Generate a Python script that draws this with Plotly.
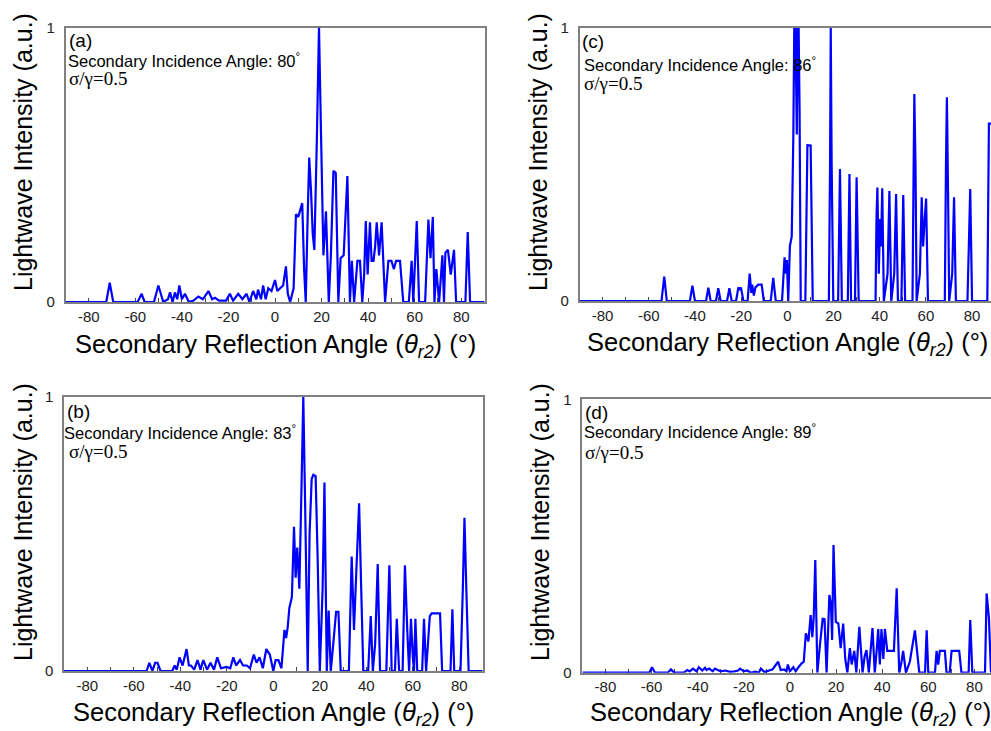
import plotly.graph_objects as go

# ---------------- data ----------------
# Panel (a): secondary incidence angle 80 deg
angle_a = [
    -90, -72.5, -71, -69.5, -59, -57.3, -56, -52, -50.1, -48,
    -46, -45.1, -44, -43, -42, -41.1, -40, -38.7, -37, -35,
    -32.9, -31, -28.6, -27, -25.8, -24, -21, -19.4, -18, -15.8,
    -14, -12.2, -11, -9.4, -8, -7.3, -6, -5.1, -4, -2.9,
    -1.5, 0, 1, 2.2, 3.5, 4.7, 5.5, 6.5, 8, 9,
    10, 11, 11.7, 12.5, 13.2, 14, 14.7, 15.5, 16.2, 16.9,
    18, 18.9, 19.8, 20.8, 21.9, 23.1, 24, 25.1, 26.1, 27.2,
    28.2, 29.5, 31.1, 32.2, 33, 34, 35.4, 36.5, 37.5, 38.3,
    39, 39.8, 40.8, 41.5, 42.3, 43, 43.7, 44.7, 45.8, 47.3,
    48.7, 50, 51.1, 52, 53.7, 55.1, 57.5, 58.7, 59.4, 60.9,
    61.9, 64.5, 65.9, 66.8, 67.8, 68.5, 69.3, 70.5, 71.9, 72.6,
    73.2, 74.3, 75.5, 76.9, 77.8, 81.8, 82.8, 83.8, 90,
]
intensity_a = [
    0, 0, 0.07, 0, 0, 0.03, 0, 0, 0.06, 0,
    0.01, 0.035, 0, 0.035, 0.01, 0.06, 0.01, 0.03, 0, 0.005,
    0.02, 0.01, 0.04, 0.01, 0.015, 0.005, 0.005, 0.03, 0.005, 0.03,
    0.01, 0.03, 0, 0.04, 0.01, 0.045, 0.01, 0.06, 0.01, 0.05,
    0.04, 0.08, 0.04, 0.05, 0.06, 0.13, 0.03, 0, 0.05, 0.32,
    0.31, 0.34, 0.36, 0.12, 0, 0.3, 0.526, 0.4, 0.25, 0.19,
    0.6, 1.0, 0.6, 0.17, 0.33, 0, 0.17, 0.478, 0.47, 0,
    0.16, 0.17, 0.459, 0, 0.15, 0, 0.15, 0.15, 0, 0.1,
    0.295, 0.1, 0.29, 0.15, 0.15, 0.2, 0.29, 0.17, 0.29, 0,
    0.15, 0.15, 0.12, 0.15, 0.15, 0, 0, 0.15, 0, 0.295,
    0, 0, 0.30, 0.16, 0.31, 0, 0.12, 0, 0.17, 0,
    0.18, 0.19, 0.1, 0.19, 0, 0, 0.255, 0, 0,
]

# Panel (b): secondary incidence angle 83 deg
angle_b = [
    -90, -54.5, -53.3, -52, -50.8, -49.8, -48.5, -43.5, -42.4, -41.5,
    -40.3, -39, -37.3, -36.3, -35.4, -34, -32.6, -31.3, -30.1, -28.5,
    -27, -25.5, -24.1, -22.5, -20.1, -18.5, -17.2, -16, -14.3, -13,
    -11.4, -10, -8.4, -7.2, -5.9, -4.5, -3, -1.5, 0, 1,
    2.2, 3.5, 4.8, 5.5, 6.2, 6.9, 8.0, 8.9, 9.6, 10.3,
    11.2, 12.2, 12.9, 13.7, 14.8, 15.6, 16.5, 17.2, 18.2, 19.1,
    20.0, 21.2, 22.0, 23.0, 23.8, 24.7, 25.8, 27.0, 28.0, 29.0,
    32.5, 33.7, 34.7, 35.4, 36.9, 37.8, 38.7, 40.8, 41.9, 42.8,
    43.8, 44.9, 45.9, 48.6, 49.9, 50.9, 52.3, 53.1, 54.1, 55.6,
    56.6, 57.6, 58.4, 59.2, 60.0, 60.5, 61.1, 61.9, 64.0, 64.8,
    65.7, 67.3, 68.1, 70.0, 71.7, 72.6, 76.2, 77.0, 77.8, 80.5,
    81.5, 82.2, 83.0, 84.0, 90,
]
intensity_b = [
    0, 0, 0.03, 0, 0.03, 0.03, 0, 0, 0.02, 0.005,
    0.05, 0.02, 0.08, 0.02, 0.02, 0.005, 0.04, 0.005, 0.04, 0.005,
    0.03, 0.005, 0.05, 0.01, 0.015, 0.01, 0.05, 0.02, 0.04, 0.02,
    0.02, 0.01, 0.06, 0.03, 0.05, 0.01, 0.08, 0.06, 0, 0.04,
    0.04, 0.01, 0.15, 0.12, 0.16, 0.23, 0.27, 0.526, 0.34, 0.45,
    0.3, 0.7, 1.0, 0.6, 0, 0.5, 0.7, 0.715, 0.71, 0.4,
    0, 0.3, 0.687, 0, 0.22, 0, 0.1, 0.216, 0.216, 0,
    0, 0.417, 0.15, 0.3, 0.611, 0.3, 0, 0, 0.2, 0,
    0.1, 0.39, 0, 0, 0.385, 0, 0, 0.19, 0, 0,
    0.385, 0.15, 0, 0.19, 0.05, 0, 0.19, 0, 0, 0.19,
    0, 0.2, 0.21, 0.21, 0.21, 0, 0, 0.225, 0, 0,
    0.3, 0.559, 0.3, 0, 0,
]

# Panel (c): secondary incidence angle 86 deg
angle_c = [
    -90, -54.5, -53.3, -52.2, -42.2, -41.1, -40, -35.2, -34.2, -33.2,
    -30.9, -29.9, -28.9, -26.1, -25.1, -24.1, -22.2, -21.2, -20.6, -20.1,
    -19, -17.2, -16.3, -15.6, -15.2, -14.5, -13.8, -12.6, -11.1, -10.2,
    -7.2, -6.1, -5, -2.3, -1.2, -0.6, -0.2, 0.4, 1.1, 1.9,
    2.6, 3.0, 3.5, 4.1, 4.5, 4.9, 5.3, 5.8, 7.8, 8.7,
    10.1, 11.0, 18.0, 18.5, 18.8, 19.2, 19.9, 22.0, 22.8, 23.6,
    26.2, 26.9, 27.6, 29.3, 30.0, 30.9, 38.2, 38.6, 39.0, 39.6,
    40.2, 40.6, 41.1, 41.8, 43.4, 44.2, 45.0, 46.3, 47.1, 47.9,
    49.4, 50.2, 51.0, 54.2, 54.6, 55.0, 55.5, 56.0, 57.4, 58.2,
    58.8, 59.5, 60.1, 60.9, 68.2, 68.7, 69.1, 69.6, 70.1, 71.4,
    72.2, 73.0, 78.0, 78.6, 79.2, 80.0, 86.6, 87.3, 88.2,
]
intensity_c = [
    0, 0, 0.089, 0, 0, 0.056, 0, 0, 0.049, 0,
    0, 0.047, 0, 0, 0.047, 0, 0, 0.05, 0.04, 0.05,
    0, 0, 0.1, 0.03, 0.06, 0.02, 0.05, 0.06, 0.06, 0,
    0, 0.085, 0, 0, 0.16, 0.1, 0.15, 0, 0.2, 0.236,
    0.6, 1.0, 1.0, 0.61, 1.0, 1.0, 0.7, 0, 0, 0.571,
    0.57, 0, 0, 0.5, 1.0, 0.5, 0, 0, 0.483, 0,
    0, 0.465, 0, 0, 0.453, 0, 0, 0.3, 0.416, 0.1,
    0.3, 0.2, 0.413, 0, 0.1, 0.403, 0, 0.1, 0.392, 0,
    0, 0.388, 0, 0, 0.4, 0.758, 0.5, 0, 0.1, 0.38,
    0.2, 0.3, 0.375, 0, 0, 0.5, 0.746, 0.4, 0, 0.1,
    0.38, 0, 0, 0.2, 0.41, 0, 0, 0.65, 0.65,
]

# Panel (d): secondary incidence angle 89 deg
angle_d = [
    -90, -61, -59.8, -58.5, -53, -51.6, -50.2, -46, -44.5, -43.5,
    -42, -40.5, -39.5, -38, -36.8, -36.2, -35, -33.5, -32.5, -31.8,
    -30, -28, -26, -24, -22.5, -21.6, -20, -18.5, -17, -15,
    -13.5, -12.6, -11, -9, -7.5, -6, -5.1, -4, -2.5, -1.5,
    -0.9, 0, 1.5, 2.5, 3.7, 5.1, 6.0, 6.9, 8.0, 9.0,
    9.7, 10.3, 11.0, 11.9, 13.0, 14.2, 15.0, 15.9, 17.1, 17.8,
    18.3, 18.9, 19.9, 21.0, 22.0, 23.1, 24.0, 24.9, 26.0, 26.8,
    27.9, 28.8, 30.1, 31.5, 32.4, 33.2, 34.2, 35.8, 36.8, 37.6,
    38.3, 39.0, 39.7, 40.5, 41.2, 42.2, 43.4, 45.1, 46.3, 47.4,
    48.4, 49.1, 50.3, 52.0, 54.2, 56.1, 58.6, 59.3, 60.0, 62.9,
    63.6, 64.3, 65.0, 66.2, 67.2, 67.9, 69.3, 70.1, 73.4, 74.4,
    77.5, 78.2, 79.1, 84.6, 85.3, 86.3, 87.2,
]
intensity_d = [
    0, 0, 0.02, 0, 0, 0.012, 0, 0, 0.01, 0.005,
    0.015, 0.005, 0.02, 0.008, 0.018, 0.01, 0.015, 0.005, 0.015, 0.012,
    0.005, 0.008, 0.003, 0.005, 0.008, 0.015, 0.005, 0.008, 0, 0.004,
    0, 0.015, 0.002, 0.008, 0.012, 0.03, 0.04, 0.01, 0.012, 0.005,
    0.03, 0.005, 0.02, 0.005, 0.02, 0.034, 0.04, 0.144, 0.114, 0.211,
    0.13, 0.2, 0.412, 0, 0.1, 0.197, 0.196, 0, 0.284, 0.25,
    0.12, 0.467, 0.186, 0.18, 0.09, 0.18, 0.05, 0, 0.09, 0.03,
    0.08, 0, 0.168, 0, 0.06, 0.083, 0, 0.163, 0, 0.08,
    0.16, 0.03, 0.16, 0.05, 0.16, 0.08, 0.08, 0.08, 0.309, 0,
    0.04, 0.08, 0, 0.04, 0.155, 0, 0, 0.155, 0, 0,
    0.08, 0.03, 0.08, 0.08, 0.08, 0, 0, 0.08, 0.08, 0,
    0, 0.193, 0, 0, 0.29, 0.2, 0,
]

panel_labels = ["(a)", "(b)", "(c)", "(d)"]
incidence_angles = ["80", "83", "86", "89"]
sigma_text = "σ/γ=0.5"
x_tick_values = [-80, -60, -40, -20, 0, 20, 40, 60, 80]
x_tick_labels = ["-80", "-60", "-40", "-20", "0", "20", "40", "60", "80"]
y_tick_values = [0, 1]
y_tick_labels = ["0", "1"]
x_title = "Secondary Reflection Angle (<i>θ<sub>r2</sub></i>) (°)"
y_title = "Lightwave Intensity (a.u.)"

for xs, ys in [(angle_a, intensity_a), (angle_b, intensity_b),
               (angle_c, intensity_c), (angle_d, intensity_d)]:
    assert len(xs) == len(ys)

# ---------------- layout ----------------
W, H = 991, 731
SANS = "Liberation Sans, Arial, sans-serif"
SERIF = "Liberation Serif, Times New Roman, serif"
FRAME = "#808080"

panels = [
    dict(xs=angle_a, ys=intensity_a, box=(65.5, 484.5, 27.5, 302), xmax=90, right=True,
         ytitle=(23, 152), xtitle=(275, 346),
         lab=(67, 40), inc=(66, 60), sig=(67, 79)),
    dict(xs=angle_b, ys=intensity_b, box=(64, 482.6, 396.7, 671), xmax=90, right=True,
         ytitle=(23, 522), xtitle=(273, 714),
         lab=(65, 411), inc=(62, 432), sig=(67, 451)),
    dict(xs=angle_c, ys=intensity_c, box=(579.5, 991, 28, 301), xmax=88.2, right=False,
         ytitle=(538, 152), xtitle=(787, 344),
         lab=(580, 42), inc=(582, 64), sig=(582, 84)),
    dict(xs=angle_d, ys=intensity_d, box=(582.4, 991, 399.3, 672.7), xmax=87.2, right=False,
         ytitle=(540, 522), xtitle=(790, 714),
         lab=(583, 412), inc=(582, 431), sig=(583, 452)),
]

fig = go.Figure()
annotations = []
layout_axes = {}

for i, p in enumerate(panels):
    n = "" if i == 0 else str(i + 1)
    l, r, t, b = p["box"]
    fig.add_trace(go.Scatter(
        x=p["xs"], y=p["ys"], mode="lines",
        line=dict(color="#0000ff", width=2.2, simplify=False),
        xaxis="x" + n, yaxis="y" + n, showlegend=False, hoverinfo="x+y",
    ))
    layout_axes["xaxis" + n] = dict(
        domain=[l / W, r / W], range=[-90, p["xmax"]], anchor="y" + n,
        showline=True, linecolor=FRAME, linewidth=1.5, mirror=True,
        showgrid=False, zeroline=False, layer="below traces",
        ticks="inside", ticklen=4, tickwidth=1, tickcolor="#444",
        tickmode="array", tickvals=x_tick_values, ticktext=x_tick_labels,
        minor=dict(ticks="inside", ticklen=4, tickmode="linear", tick0=0, dtick=10,
                   tickcolor="#444", showgrid=False),
        tickfont=dict(family=SANS, size=15, color="#222"),
        automargin=False, fixedrange=True,
    )
    layout_axes["yaxis" + n] = dict(
        domain=[1 - b / H, 1 - t / H], range=[0, 1], anchor="x" + n,
        showline=True, linecolor=FRAME, linewidth=1.5, mirror=p["right"],
        showgrid=False, zeroline=False, layer="below traces",
        ticks="", tickmode="array", tickvals=y_tick_values, ticktext=y_tick_labels,
        ticklabelstandoff=6,
        tickfont=dict(family=SANS, size=15, color="#222"),
        automargin=False, fixedrange=True,
    )
    annotations.append(dict(
        text=y_title, textangle=-90, xref="paper", yref="paper",
        x=p["ytitle"][0] / W, y=1 - p["ytitle"][1] / H, xanchor="center", yanchor="middle",
        showarrow=False, font=dict(family=SANS, size=25, color="#000")))
    annotations.append(dict(
        text=x_title, xref="paper", yref="paper",
        x=p["xtitle"][0] / W, y=1 - p["xtitle"][1] / H, xanchor="center", yanchor="middle",
        showarrow=False, font=dict(family=SANS, size=25.5, color="#000")))
    annotations.append(dict(
        text=panel_labels[i], xref="paper", yref="paper",
        x=p["lab"][0] / W, y=1 - p["lab"][1] / H, xanchor="left", yanchor="middle",
        showarrow=False, font=dict(family=SANS, size=19, color="#000")))
    annotations.append(dict(
        text="Secondary Incidence Angle: " + incidence_angles[i] + "<sup>°</sup>",
        xref="paper", yref="paper",
        x=p["inc"][0] / W, y=1 - p["inc"][1] / H, xanchor="left", yanchor="middle",
        showarrow=False, font=dict(family=SANS, size=16.5, color="#000")))
    annotations.append(dict(
        text=sigma_text, xref="paper", yref="paper",
        x=p["sig"][0] / W, y=1 - p["sig"][1] / H, xanchor="left", yanchor="middle",
        showarrow=False, font=dict(family=SERIF, size=19, color="#000")))

fig.update_layout(
    width=W, height=H, margin=dict(l=0, r=0, t=0, b=0),
    paper_bgcolor="white", plot_bgcolor="white",
    annotations=annotations, showlegend=False,
    **layout_axes,
)

fig.write_html("out.html")
